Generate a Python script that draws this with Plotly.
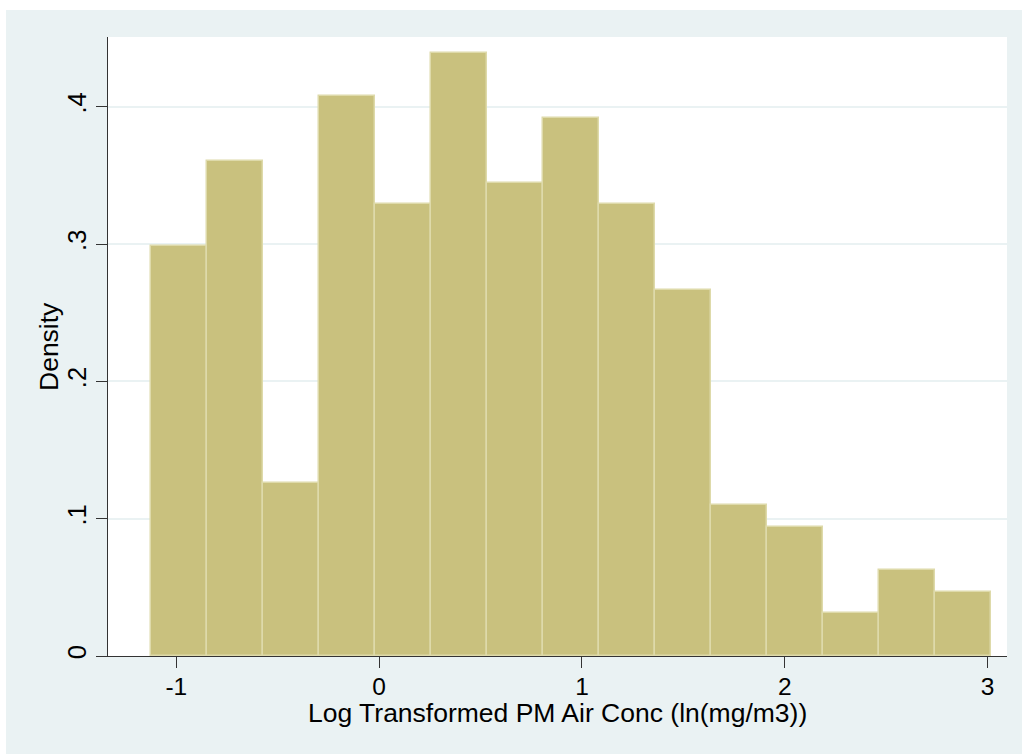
import plotly.graph_objects as go

# Histogram bins
bin_edges = [-1.125, -0.849, -0.573, -0.296, -0.020, 0.256, 0.532, 0.808,
             1.084, 1.361, 1.637, 1.913, 2.189, 2.465, 2.742, 3.018]
density = [0.2986, 0.3608, 0.1258, 0.4081, 0.3294, 0.4390, 0.3447, 0.3916,
           0.3292, 0.2663, 0.1100, 0.0942, 0.0316, 0.0626, 0.0469]

x_ticks = [-1, 0, 1, 2, 3]
x_ticklabels = ["-1", "0", "1", "2", "3"]
y_ticks = [0, 0.1, 0.2, 0.3, 0.4]
y_ticklabels = ["0", ".1", ".2", ".3", ".4"]

x_title = "Log Transformed PM Air Conc (ln(mg/m3))"
y_title = "Density"

centers = [(bin_edges[i] + bin_edges[i + 1]) / 2 for i in range(len(density))]
widths = [bin_edges[i + 1] - bin_edges[i] for i in range(len(density))]

BG = "#EAF2F3"
AXIS = "#333333"
FONT = "Liberation Sans, Arial, Helvetica, sans-serif"

fig = go.Figure()
fig.add_trace(go.Bar(
    x=centers, y=density, width=widths,
    marker=dict(color="rgb(201,193,126)",
                line=dict(color="rgb(222,218,170)", width=1.5)),
    showlegend=False, hoverinfo="x+y",
))

W, H = 1022, 754
L, R, T, B = 108, 15, 37, 98
pw, ph = W - L - R, H - T - B


def px_x(p):
    return (p - L) / pw


def px_y(p):
    return (H - B - p) / ph


fig.update_layout(
    width=W, height=H,
    margin=dict(l=L, r=R, t=T, b=B, pad=0),
    paper_bgcolor=BG,
    plot_bgcolor="white",
    font=dict(family=FONT, color="black", size=25),
    bargap=0,
    shapes=[
        dict(type="rect", xref="paper", yref="paper", layer="above",
             x0=px_x(-2), x1=px_x(6), y0=px_y(H + 2), y1=px_y(-2),
             fillcolor="white", line=dict(width=0)),
        dict(type="rect", xref="paper", yref="paper", layer="above",
             x0=px_x(-2), x1=px_x(W + 2), y0=px_y(10), y1=px_y(-2),
             fillcolor="white", line=dict(width=0)),
    ],
    annotations=[
        dict(text=x_title, xref="paper", yref="paper", x=0.5, y=px_y(712.5),
             xanchor="center", yanchor="middle", showarrow=False,
             font=dict(size=26.5, family=FONT, color="black")),
        dict(text=y_title, xref="paper", yref="paper", x=px_x(48.5), y=0.5,
             xanchor="center", yanchor="middle", showarrow=False, textangle=-90,
             font=dict(size=26.5, family=FONT, color="black")),
    ],
)

fig.update_xaxes(
    range=[-1.337, 3.096],
    tickmode="array", tickvals=x_ticks, ticktext=x_ticklabels,
    ticks="outside", ticklen=11, tickwidth=1.2, tickcolor=AXIS,
    showline=True, linecolor=AXIS, linewidth=1.2,
    showgrid=False, zeroline=False,
    tickfont=dict(size=24.5, family=FONT),
    ticklabelstandoff=-3,
)
fig.update_yaxes(
    range=[0, 0.4508],
    tickmode="array", tickvals=y_ticks, ticktext=y_ticklabels,
    ticks="outside", ticklen=11, tickwidth=1.2, tickcolor=AXIS,
    tickangle=-90,
    showline=True, linecolor=AXIS, linewidth=1.2,
    showgrid=True, gridcolor=BG, gridwidth=1.5,
    zeroline=False,
    tickfont=dict(size=25.5, family=FONT),
)

fig.write_html("out.html")
